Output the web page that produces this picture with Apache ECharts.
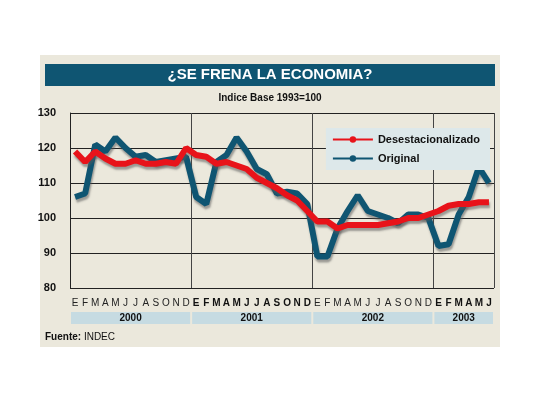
<!DOCTYPE html>
<html><head><meta charset="utf-8">
<script src="https://cdn.jsdelivr.net/npm/echarts@6/dist/echarts.min.js"></script>
<style>body{margin:0;background:#fff}#c{width:540px;height:405px}</style>
</head><body><div id="c"></div>
<script>
const months = ['E','F','M','A','M','J','J','A','S','O','N','D']
const years = ['2000', '2001', '2002', '2003']
const monthLabels = months.concat(months, months, months.slice(0, 6))
const yTicks = [80, 90, 100, 110, 120, 130]

const desest = [119, 116, 119, 117, 115.5, 115.5, 116.5, 115.5, 115.5, 116, 115.5, 120,
  118, 117.5, 115.5, 116, 115, 114, 111.5, 110, 108.5, 106.5, 105, 102,
  99, 99, 97, 98, 98, 98, 98, 98.5, 99, 100, 100, 101,
  102, 103.5, 104, 104, 104.5, 104.5]
const original = [106, 107, 121, 119, 123, 120, 117.5, 118, 116, 116.5, 117, 117.5,
  106, 104, 116, 118, 123, 119, 114, 112.5, 107, 107.5, 107, 104,
  89, 89, 97, 102, 106.5, 102, 101, 100, 98.5, 101, 101, 100,
  92, 92.5, 101, 106, 114.5, 110]

const chart = echarts.init(document.getElementById('c'))
const font = 'Liberation Sans'

// 2001 y 2003 en negrita
function monthFmt(v, i) {
  return (i >= 12 && i < 24) || i >= 36 ? '{b|' + v + '}' : '{n|' + v + '}'
}

const shadow = { shadowColor: 'rgba(90,90,90,0.55)', shadowBlur: 2, shadowOffsetX: 1, shadowOffsetY: 3 }

chart.setOption({
  backgroundColor: '#fff',
  animation: false,
  textStyle: { fontFamily: font },
  graphic: [
    { type: 'rect', shape: { x: 40, y: 55, width: 460, height: 292 }, style: { fill: '#ebe8dc' }, z: -10 },
    { type: 'rect', shape: { x: 45, y: 64, width: 450, height: 22 }, style: { fill: '#0f5572' } },
    { type: 'text', x: 270, y: 75, style: { text: '¿SE FRENA LA ECONOMIA?', fill: '#fff', font: 'bold 15px ' + font, align: 'center', verticalAlign: 'middle' } },
    { type: 'text', x: 270, y: 98, style: { text: 'Indice Base 1993=100', fill: '#111', font: 'bold 10px ' + font, align: 'center', verticalAlign: 'middle' } },
    { type: 'text', x: 45, y: 337, style: { text: '{b|Fuente:} INDEC', fill: '#111', font: '10px ' + font, verticalAlign: 'middle', rich: { b: { fontWeight: 'bold', fontSize: 10 } } } }
  ],
  legend: {
    right: 50, top: 128, orient: 'vertical', itemWidth: 40, itemHeight: 8, itemGap: 8,
    backgroundColor: '#dde8ea', padding: [6, 10, 6, 6],
    textStyle: { fontWeight: 'bold', fontSize: 11, color: '#111' },
    data: ['Desestacionalizado', 'Original']
  },
  grid: { left: 70, right: 46, top: 113, bottom: 117 },
  xAxis: {
    type: 'category', data: monthLabels, boundaryGap: true,
    axisLine: { show: false }, axisTick: { show: false },
    splitLine: { show: true, interval: (i) => i % 12 === 0 && i > 0, lineStyle: { color: '#444', width: 1 } },
    axisLabel: { interval: 0, margin: 10, formatter: monthFmt,
      rich: { n: { fontSize: 10, color: '#222' }, b: { fontSize: 10, fontWeight: 'bold', color: '#111' } } }
  },
  yAxis: {
    type: 'value', min: yTicks[0], max: yTicks[yTicks.length - 1], interval: 10,
    axisLine: { show: true, lineStyle: { color: '#222' } }, axisTick: { show: false },
    splitLine: { lineStyle: { color: '#222', width: 1.2 } },
    axisLabel: { fontWeight: 'bold', fontSize: 11, color: '#111', margin: 14 }
  },
  series: [
    { name: 'Original', type: 'line', data: original, symbol: 'none', color: '#0f5572',
      lineStyle: Object.assign({ width: 6, color: '#0f5572' }, shadow), z: 3 },
    { name: 'Desestacionalizado', type: 'line', data: desest, symbol: 'none', color: '#e8131a',
      lineStyle: Object.assign({ width: 6, color: '#e8131a' }, shadow), z: 4 }
  ]
})

// bandas de años bajo las letras de los meses
const bands = []
const starts = [0, 12, 24, 36]
years.forEach((y, k) => {
  const a = starts[k], b = k < 3 ? starts[k + 1] - 1 : monthLabels.length - 1
  const half = (chart.convertToPixel({ xAxisIndex: 0 }, 1) - chart.convertToPixel({ xAxisIndex: 0 }, 0)) / 2
  const x0 = chart.convertToPixel({ xAxisIndex: 0 }, a) - half + 1
  const x1 = chart.convertToPixel({ xAxisIndex: 0 }, b) + half - 1
  bands.push({ type: 'rect', shape: { x: x0, y: 312, width: x1 - x0, height: 12 }, style: { fill: '#c6dbe2' } })
  bands.push({ type: 'text', x: (x0 + x1) / 2, y: 318, style: { text: y, fill: '#111', font: 'bold 10px ' + font, align: 'center', verticalAlign: 'middle' } })
})
const opt = chart.getOption()
chart.setOption({ graphic: opt.graphic.map(g => ({ id: g.id })).concat([]) })
chart.setOption({ graphic: bands.map((g, i) => Object.assign({ id: 'band' + i }, g)) })
</script></body></html>
